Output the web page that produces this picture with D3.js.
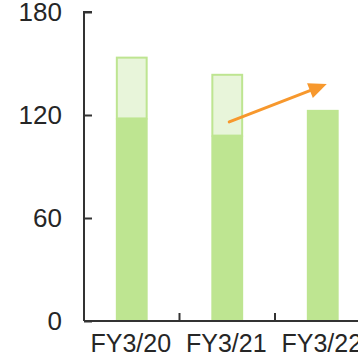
<!DOCTYPE html>
<html>
<head>
<meta charset="utf-8">
<script src="https://cdn.jsdelivr.net/npm/d3@7"></script>
<style>
  html, body { margin: 0; padding: 0; background: #fff; }
  svg { display: block; font-family: "Liberation Sans", Arial, sans-serif; }
</style>
</head>
<body>
<svg id="chart" width="358" height="357"></svg>
<script>
// Fiscal years on the x axis
const categories = ["FY3/20", "FY3/21", "FY3/22"];
// Solid (base) portion of each bar
const baseValues = [118, 108, 123];
// Top of the lighter outlined portion stacked above the base (null = none)
const totalValues = [154, 144, null];
// Y axis ticks
const yTicks = [0, 60, 120, 180];
// Trend arrow, expressed in data space (category + value)
const arrowFrom = { cat: "FY3/21", value: 116, dx: 2 };
const arrowTo = { cat: "FY3/22", value: 138, dx: 4 };

const colors = {
  base: "#bee591",
  light: "#e8f5da",
  lightStroke: "#bee591",
  axis: "#333333",
  text: "#262626",
  arrow: "#f7982d"
};

const svg = d3.select("#chart");
const plotLeft = 84, plotBottom = 321, plotTop = 12;
const band = 95.5;

const x = d3.scaleBand()
  .domain(categories)
  .range([plotLeft, plotLeft + band * categories.length])
  .paddingInner(0)
  .paddingOuter(0);

const y = d3.scaleLinear().domain([0, 180]).range([plotBottom, plotTop]);

const barW = x.bandwidth() / 3;
const cx = c => x(c) + x.bandwidth() / 2;

const rows = categories.map((c, i) => ({ c, base: baseValues[i], total: totalValues[i] }));

// Lighter stacked segment with outline
svg.append("g").selectAll("rect")
  .data(rows.filter(d => d.total != null))
  .join("rect")
  .attr("x", d => cx(d.c) - barW / 2 + 1)
  .attr("width", barW - 2)
  .attr("y", d => y(d.total) + 1)
  .attr("height", d => y(d.base) - y(d.total) - 1)
  .attr("fill", colors.light)
  .attr("stroke", colors.lightStroke)
  .attr("stroke-width", 2);

// Solid base segment
svg.append("g").selectAll("rect")
  .data(rows)
  .join("rect")
  .attr("x", d => cx(d.c) - barW / 2)
  .attr("width", barW)
  .attr("y", d => y(d.base))
  .attr("height", d => y(0) - y(d.base))
  .attr("fill", colors.base);

// Y axis with inward ticks
const yAxis = d3.axisRight(y).tickValues(yTicks).tickSize(8).tickFormat("");
const gy = svg.append("g").attr("transform", `translate(${plotLeft},0)`).call(yAxis);
gy.select(".domain").attr("d", `M${8},${plotTop}H0V${plotBottom}`).attr("stroke", colors.axis).attr("stroke-width", 2);
gy.selectAll(".tick line").attr("stroke", colors.axis).attr("stroke-width", 2);

svg.append("g").selectAll("text")
  .data(yTicks)
  .join("text")
  .attr("x", 62)
  .attr("y", d => y(d))
  .attr("dy", "0.36em")
  .attr("text-anchor", "end")
  .attr("font-size", 26)
  .attr("fill", colors.text)
  .text(d => d);

// X axis with boundary ticks pointing up
svg.append("line")
  .attr("x1", plotLeft).attr("x2", 358)
  .attr("y1", plotBottom).attr("y2", plotBottom)
  .attr("stroke", colors.axis).attr("stroke-width", 2);

svg.append("g").selectAll("line")
  .data(categories.slice(1))
  .join("line")
  .attr("x1", d => x(d)).attr("x2", d => x(d))
  .attr("y1", plotBottom).attr("y2", plotBottom - 8)
  .attr("stroke", colors.axis).attr("stroke-width", 2);

svg.append("g").selectAll("text")
  .data(categories)
  .join("text")
  .attr("x", d => cx(d) - 1)
  .attr("y", 352)
  .attr("text-anchor", "middle")
  .attr("font-size", 25)
  .attr("fill", colors.text)
  .text(d => d);

// Trend arrow
const ax1 = cx(arrowFrom.cat) + arrowFrom.dx, ay1 = y(arrowFrom.value);
const ax2 = cx(arrowTo.cat) + arrowTo.dx, ay2 = y(arrowTo.value);
const ang = Math.atan2(ay2 - ay1, ax2 - ax1);
const headL = 18, headW = 8;
const bx = ax2 - headL * Math.cos(ang), by = ay2 - headL * Math.sin(ang);

svg.append("line")
  .attr("x1", ax1).attr("y1", ay1)
  .attr("x2", bx).attr("y2", by)
  .attr("stroke", colors.arrow).attr("stroke-width", 3).attr("stroke-linecap", "round");

svg.append("path")
  .attr("d", d3.line()([
    [ax2, ay2],
    [bx + headW * Math.sin(ang), by - headW * Math.cos(ang)],
    [bx - headW * Math.sin(ang), by + headW * Math.cos(ang)]
  ]) + "Z")
  .attr("fill", colors.arrow);
</script>
</body>
</html>
